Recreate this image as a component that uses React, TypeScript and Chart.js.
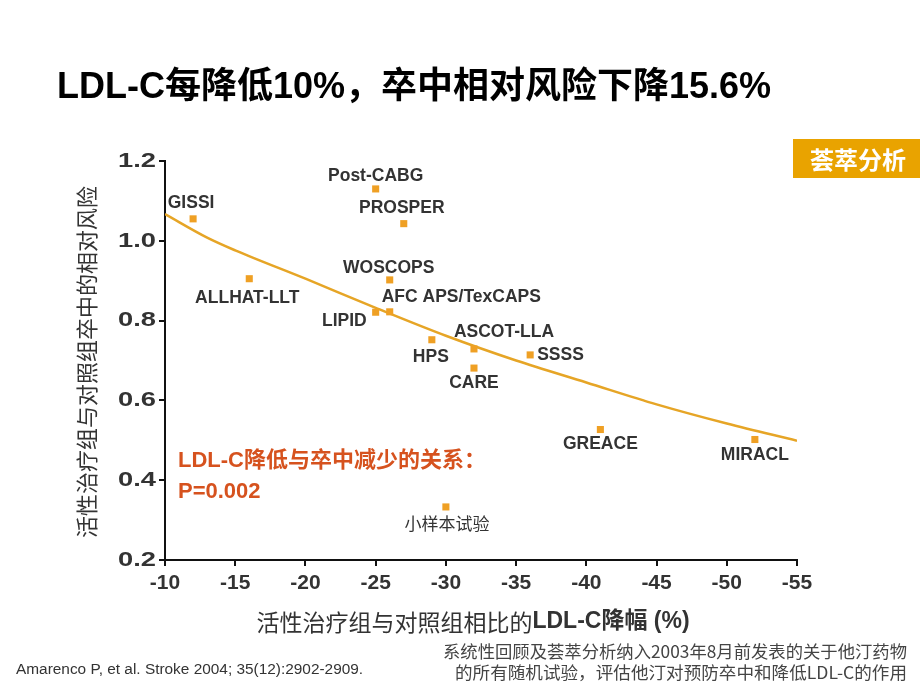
import React, { useEffect, useRef } from "react";
import { Chart, registerables } from "chart.js";

Chart.register(...registerables);

// ---------- text ----------
const TITLE = "LDL-C每降低10%，卒中相对风险下降15.6%";
const BADGE = "荟萃分析";
const Y_TITLE = "活性治疗组与对照组卒中的相对风险";
const X_TITLE_A = "活性治疗组与对照组相比的";
const X_TITLE_B = "LDL-C降幅 (%)";
const NOTE_LINES = ["LDL-C降低与卒中减少的关系：", "P=0.002"];
const CITATION = "Amarenco P, et al. Stroke 2004; 35(12):2902-2909.";
const FOOTNOTE = [
  "系统性回顾及荟萃分析纳入2003年8月前发表的关于他汀药物",
  "的所有随机试验，评估他汀对预防卒中和降低LDL-C的作用",
];

// ---------- data ----------
const trials = [
  "GISSI",
  "ALLHAT-LLT",
  "Post-CABG",
  "PROSPER",
  "WOSCOPS",
  "AFC APS/TexCAPS",
  "LIPID",
  "HPS",
  "ASCOT-LLA",
  "CARE",
  "SSSS",
  "GREACE",
  "MIRACL",
  "小样本试验",
];
const ldlReduction = [-12, -16, -25, -27, -26, -26, -25, -29, -32, -32, -36, -41, -52, -30];
const relativeRisk = [1.055, 0.905, 1.13, 1.043, 0.902, 0.822, 0.821, 0.752, 0.729, 0.681, 0.714, 0.527, 0.502, 0.333];

const fitX = [-10, -13, -15, -20, -25, -30, -35, -40, -45, -50, -55];
const fitY = [1.067, 1.008, 0.976, 0.905, 0.832, 0.762, 0.7, 0.645, 0.59, 0.542, 0.499];

const X_MIN = -55;
const X_MAX = -10;
const X_STEP = 5;
const Y_MIN = 0.2;
const Y_MAX = 1.2;
const Y_STEP = 0.2;

// label placement relative to each point: [dx, dy, align]
const LABEL_PLACE: [number, number, CanvasTextAlign][] = [
  [-2, -16, "center"],
  [-2, 19, "center"],
  [0, -13, "center"],
  [-2, -15, "center"],
  [-1, -12, "center"],
  [-8, -15, "left"],
  [-9, 9, "right"],
  [-1, 17, "center"],
  [30, -17, "center"],
  [0, 15, "center"],
  [7, 0, "left"],
  [0, 15, "center"],
  [0, 16, "center"],
  [1, 17, "center"],
];

const SANS = '"Liberation Sans", Arial, "Noto Sans CJK SC", sans-serif';
const CJK = '"Noto Sans CJK SC", "Liberation Sans", sans-serif';
const ORANGE = "#EFA024";
const LINE = "#E6A526";
const INK = "#333333";

function fitText(ctx: CanvasRenderingContext2D, text: string, right: number, y: number, width: number) {
  const w = ctx.measureText(text).width;
  ctx.save();
  ctx.translate(right, y);
  ctx.scale(width / w, 1);
  ctx.textAlign = "right";
  ctx.fillText(text, 0, 0);
  ctx.restore();
}

const decorPlugin = {
  id: "decor",
  beforeDraw(chart: any) {
    const ctx = chart.ctx;
    ctx.save();
    ctx.fillStyle = "#ffffff";
    ctx.fillRect(0, 0, chart.width, chart.height);
    ctx.restore();
  },
  afterDraw(chart: any) {
    const ctx: CanvasRenderingContext2D = chart.ctx;
    ctx.save();
    ctx.textBaseline = "middle";

    // title
    ctx.fillStyle = "#000";
    ctx.textAlign = "left";
    ctx.font = `bold 36px ${SANS}`;
    ctx.fillText(TITLE, 57, 88);

    // badge
    ctx.fillStyle = "#E9A300";
    ctx.fillRect(793, 139, 127, 39);
    ctx.fillStyle = "#fff";
    ctx.font = `bold 24px ${CJK}`;
    ctx.textAlign = "center";
    ctx.fillText(BADGE, 858, 160);

    // y tick labels (horizontally widened as in the reference)
    const ys = chart.scales.y;
    ctx.fillStyle = INK;
    ctx.font = `bold 21px ${SANS}`;
    ys.ticks.forEach((t: any) => {
      const py = ys.getPixelForValue(t.value);
      ctx.save();
      ctx.translate(156, py);
      ctx.scale(1.3, 1);
      ctx.textAlign = "right";
      ctx.fillText(Number(t.value).toFixed(1), 0, 0);
      ctx.restore();
    });

    // y title
    ctx.save();
    ctx.translate(87, 362);
    ctx.rotate(-Math.PI / 2);
    ctx.fillStyle = INK;
    ctx.font = `22px ${CJK}`;
    ctx.textAlign = "center";
    ctx.fillText(Y_TITLE, 0, 0);
    ctx.restore();

    // x title
    ctx.fillStyle = INK;
    ctx.font = `23px ${CJK}`;
    const wa = ctx.measureText(X_TITLE_A).width;
    ctx.font = `bold 23px ${SANS}`;
    const wb = ctx.measureText(X_TITLE_B).width;
    const x0 = 473 - (wa + wb) / 2;
    ctx.textAlign = "left";
    ctx.font = `23px ${CJK}`;
    ctx.fillText(X_TITLE_A, x0, 622);
    ctx.font = `bold 23px ${SANS}`;
    ctx.fillText(X_TITLE_B, x0 + wa, 622);

    // relation note
    ctx.fillStyle = "#D6521E";
    ctx.font = `bold 22px ${SANS}`;
    ctx.textAlign = "left";
    ctx.fillText(NOTE_LINES[0], 178, 461);
    ctx.fillText(NOTE_LINES[1], 178, 492);

    // point labels
    const meta = chart.getDatasetMeta(0);
    meta.data.forEach((pt: any, i: number) => {
      const [dx, dy, align] = LABEL_PLACE[i];
      ctx.fillStyle = INK;
      ctx.textAlign = align;
      ctx.font = i === trials.length - 1 ? `17px ${CJK}` : `bold 17.5px ${SANS}`;
      ctx.fillText(trials[i], pt.x + dx, pt.y + dy);
    });

    // citation
    ctx.fillStyle = INK;
    ctx.font = `15.4px ${SANS}`;
    ctx.textAlign = "left";
    ctx.fillText(CITATION, 16, 670);

    // footnote
    ctx.font = `17px ${CJK}`;
    ctx.fillStyle = "#444";
    fitText(ctx, FOOTNOTE[0], 907, 652, 464);
    fitText(ctx, FOOTNOTE[1], 907, 673, 452);

    ctx.restore();
  },
};

export default function App() {
  const ref = useRef<HTMLCanvasElement | null>(null);

  useEffect(() => {
    if (!ref.current) return;
    const chart = new Chart(ref.current, {
      type: "scatter",
      data: {
        datasets: [
          {
            label: "trials",
            data: ldlReduction.map((x, i) => ({ x, y: relativeRisk[i] })),
            backgroundColor: ORANGE,
            borderColor: ORANGE,
            pointStyle: "rect",
            pointRadius: 5,
            pointBorderWidth: 0,
            showLine: false,
          },
          {
            label: "fit",
            type: "line",
            data: fitX.map((x, i) => ({ x, y: fitY[i] })),
            borderColor: LINE,
            borderWidth: 2.5,
            pointRadius: 0,
            cubicInterpolationMode: "monotone",
            fill: false,
          } as any,
        ],
      },
      options: {
        responsive: false,
        animation: false,
        events: [],
        layout: { padding: { left: 0, right: 123, top: 161, bottom: 0 } },
        plugins: {
          legend: { display: false },
          tooltip: { enabled: false },
        },
        scales: {
          x: {
            type: "linear",
            reverse: true,
            min: X_MIN,
            max: X_MAX,
            afterFit: (s: any) => {
              s.height = 130;
            },
            ticks: {
              stepSize: X_STEP,
              color: INK,
              padding: 5,
              font: { family: SANS, size: 21, weight: "bold" },
            },
            grid: {
              drawOnChartArea: false,
              drawTicks: true,
              tickLength: 6,
              color: "#111",
              lineWidth: 2,
            },
            border: { display: true, color: "#111", width: 2 },
          },
          y: {
            type: "linear",
            min: Y_MIN,
            max: Y_MAX,
            afterFit: (s: any) => {
              s.width = 165;
            },
            ticks: {
              stepSize: Y_STEP,
              color: "rgba(0,0,0,0)",
              padding: 4,
              font: { family: SANS, size: 21, weight: "bold" },
              callback: (v: any) => Number(v).toFixed(1),
            },
            grid: {
              drawOnChartArea: false,
              drawTicks: true,
              tickLength: 6,
              color: "#111",
              lineWidth: 2,
            },
            border: { display: true, color: "#111", width: 2 },
          },
        },
      } as any,
      plugins: [decorPlugin],
    });
    return () => chart.destroy();
  }, []);

  return (
    <>
      <style>{`body{margin:0;background:#fff}`}</style>
      <canvas ref={ref} width={920} height={690} style={{ display: "block", width: 920, height: 690 }} />
    </>
  );
}
